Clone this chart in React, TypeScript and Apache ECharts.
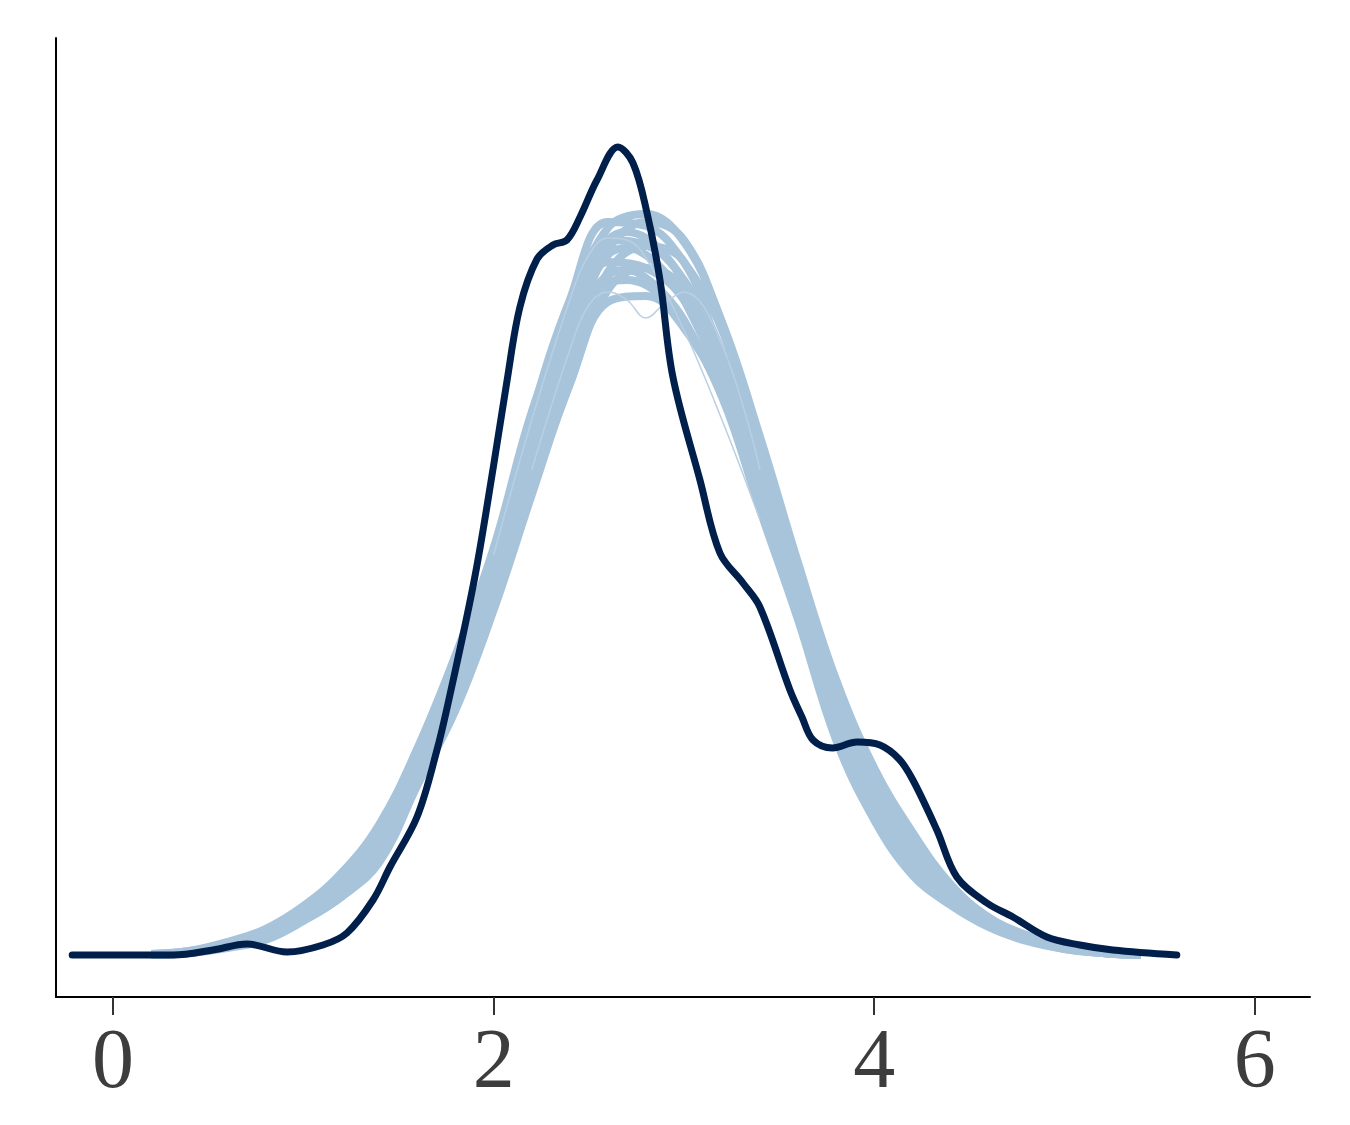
import React, { useEffect, useRef } from "react";
import * as echarts from "echarts";

// Observed density (y)
const xObs = [-0.215, 0.315, 0.525, 0.704, 0.914, 1.103, 1.229, 1.366, 1.455, 1.597, 1.702, 1.77, 1.9, 2.0, 2.07, 2.138, 2.228, 2.312, 2.385, 2.454, 2.543, 2.653, 2.732, 2.806, 2.874, 2.942, 3.084, 3.189, 3.31, 3.399, 3.557, 3.62, 3.678, 3.78, 3.91, 4.03, 4.13, 4.203, 4.329, 4.434, 4.592, 4.729, 4.907, 5.081, 5.254, 5.59];
const yObs = [0, 0, 0.005, 0.011, 0.003, 0.01, 0.022, 0.055, 0.088, 0.138, 0.205, 0.26, 0.377, 0.49, 0.574, 0.648, 0.696, 0.71, 0.715, 0.738, 0.775, 0.808, 0.792, 0.742, 0.675, 0.578, 0.475, 0.402, 0.372, 0.348, 0.265, 0.238, 0.215, 0.207, 0.213, 0.21, 0.196, 0.175, 0.125, 0.078, 0.052, 0.038, 0.018, 0.01, 0.005, 0];

// Replicated densities (yrep), read across the band
const xRep = [0.2, 0.4, 0.6, 0.8, 1.0, 1.2, 1.4, 1.6, 1.8, 2.0, 2.2, 2.4, 2.6, 2.8, 3.0, 3.2, 3.4, 3.6, 3.8, 4.0, 4.2, 4.4, 4.6, 4.8, 5.0, 5.2, 5.4];
const rep1 = [0.001, 0.004, 0.013, 0.026, 0.049, 0.082, 0.131, 0.207, 0.3, 0.407, 0.543, 0.643, 0.727, 0.741, 0.713, 0.633, 0.518, 0.392, 0.275, 0.187, 0.123, 0.071, 0.038, 0.02, 0.009, 0.003, 0];
const rep2 = [0.001, 0.004, 0.012, 0.024, 0.046, 0.078, 0.124, 0.198, 0.29, 0.395, 0.54, 0.655, 0.733, 0.729, 0.693, 0.625, 0.508, 0.382, 0.265, 0.179, 0.117, 0.067, 0.036, 0.019, 0.008, 0.003, 0];
const rep3 = [0.001, 0.003, 0.011, 0.022, 0.043, 0.074, 0.118, 0.19, 0.28, 0.383, 0.514, 0.617, 0.705, 0.733, 0.715, 0.628, 0.497, 0.372, 0.255, 0.17, 0.11, 0.063, 0.034, 0.018, 0.008, 0.002, 0];
const rep4 = [0, 0.003, 0.01, 0.021, 0.041, 0.07, 0.112, 0.184, 0.271, 0.373, 0.5, 0.625, 0.715, 0.71, 0.675, 0.603, 0.485, 0.362, 0.245, 0.162, 0.104, 0.06, 0.032, 0.017, 0.007, 0.002, 0];
const rep5 = [0, 0.003, 0.009, 0.019, 0.039, 0.066, 0.106, 0.179, 0.263, 0.363, 0.487, 0.593, 0.683, 0.709, 0.693, 0.591, 0.473, 0.354, 0.236, 0.154, 0.098, 0.057, 0.031, 0.016, 0.007, 0.002, 0];
const rep6 = [0, 0.002, 0.009, 0.018, 0.037, 0.063, 0.101, 0.175, 0.254, 0.354, 0.474, 0.605, 0.693, 0.687, 0.655, 0.579, 0.461, 0.345, 0.227, 0.146, 0.091, 0.054, 0.03, 0.015, 0.007, 0.002, 0];
const rep7 = [0, 0.002, 0.008, 0.016, 0.035, 0.06, 0.097, 0.172, 0.249, 0.349, 0.467, 0.571, 0.665, 0.687, 0.665, 0.569, 0.453, 0.34, 0.221, 0.14, 0.086, 0.052, 0.029, 0.015, 0.006, 0.002, 0];
const rep8 = [0, 0.002, 0.007, 0.015, 0.034, 0.058, 0.093, 0.17, 0.245, 0.345, 0.46, 0.571, 0.653, 0.659, 0.627, 0.558, 0.445, 0.335, 0.215, 0.135, 0.08, 0.05, 0.028, 0.014, 0.006, 0.002, 0];
const repCurves = [rep1, rep2, rep3, rep4, rep5, rep6, rep7, rep8];

// Further replicates, read around the crowded peak
const xPeak = [2.2, 2.4, 2.5, 2.6, 2.7, 2.8, 2.9, 3.0, 3.2];
const peak1 = [0.485, 0.605, 0.665, 0.7, 0.707, 0.7, 0.683, 0.655, 0.575];
const peak2 = [0.495, 0.61, 0.655, 0.68, 0.685, 0.677, 0.66, 0.635, 0.56];
const peak3 = [0.475, 0.59, 0.645, 0.673, 0.675, 0.67, 0.655, 0.633, 0.565];
const peak4 = [0.515, 0.635, 0.685, 0.715, 0.723, 0.717, 0.7, 0.673, 0.595];
const peakCurves = [peak1, peak2, peak3, peak4];

// Single replicates visible near the peak
const xArch = [2.0, 2.2, 2.4, 2.5, 2.6, 2.7, 2.8, 3.0, 3.2, 3.4];
const yArchLeft = [0.4, 0.535, 0.655, 0.7, 0.717, 0.715, 0.697, 0.625, 0.535, 0.435];
const xDip = [2.2, 2.4, 2.5, 2.6, 2.7, 2.8, 2.9, 3.0, 3.2, 3.4];
const yDip = [0.485, 0.605, 0.65, 0.663, 0.655, 0.637, 0.652, 0.663, 0.61, 0.485];

const xTicks = [0, 2, 4, 6];

const zip = (xs: number[], ys: number[]) => xs.map((x, i) => [x, ys[i]]);

export default function App() {
  const ref = useRef<HTMLDivElement>(null);
  useEffect(() => {
    if (!ref.current) return;
    const chart = echarts.init(ref.current, null, { renderer: "svg" });
    const band = (name: string, xs: number[], ys: number[]) => ({
      type: "line",
      name,
      data: zip(xs, ys),
      smooth: 0.4,
      showSymbol: false,
      lineStyle: { color: "#a8c4db", width: 8, opacity: 1 },
      z: 2,
    });
    const thin = (name: string, xs: number[], ys: number[]) => ({
      type: "line",
      name,
      data: zip(xs, ys),
      smooth: 0.4,
      showSymbol: false,
      lineStyle: { color: "#b9cfe2", width: 1.5 },
      z: 3,
    });
    chart.setOption({
      animation: false,
      backgroundColor: "#ffffff",
      grid: { left: 56, right: 40, top: 38, bottom: 128 },
      xAxis: {
        type: "value",
        min: -0.3,
        max: 6.29,
        axisLine: { show: true, onZero: false, lineStyle: { color: "#000000", width: 2 } },
        axisTick: { show: true, customValues: xTicks, length: 18, lineStyle: { color: "#333333", width: 2 } },
        axisLabel: {
          show: true,
          customValues: xTicks,
          margin: 19,
          fontSize: 84,
          fontFamily: "Liberation Serif",
          color: "#3d3d3d",
        },
        splitLine: { show: false },
      },
      yAxis: {
        type: "value",
        min: -0.042,
        max: 0.917,
        axisLine: { show: true, onZero: false, lineStyle: { color: "#000000", width: 2 } },
        axisTick: { show: false },
        axisLabel: { show: false },
        splitLine: { show: false },
      },
      series: [
        ...repCurves.map((c, i) => band("yrep" + i, xRep, c)),
        ...peakCurves.map((c, i) => band("yrepPeak" + i, xPeak, c)),
        thin("yrepArch", xArch, yArchLeft),
        thin("yrepDip", xDip, yDip),
        {
          type: "line",
          name: "y",
          data: zip(xObs, yObs),
          smooth: 0.35,
          showSymbol: false,
          lineStyle: { color: "#011f4b", width: 7, cap: "round", join: "round" },
          z: 5,
        },
      ],
    });
    return () => chart.dispose();
  }, []);
  return (
    <div
      ref={ref}
      style={{ position: "absolute", left: 0, top: 0, width: 1350, height: 1125 }}
    />
  );
}
